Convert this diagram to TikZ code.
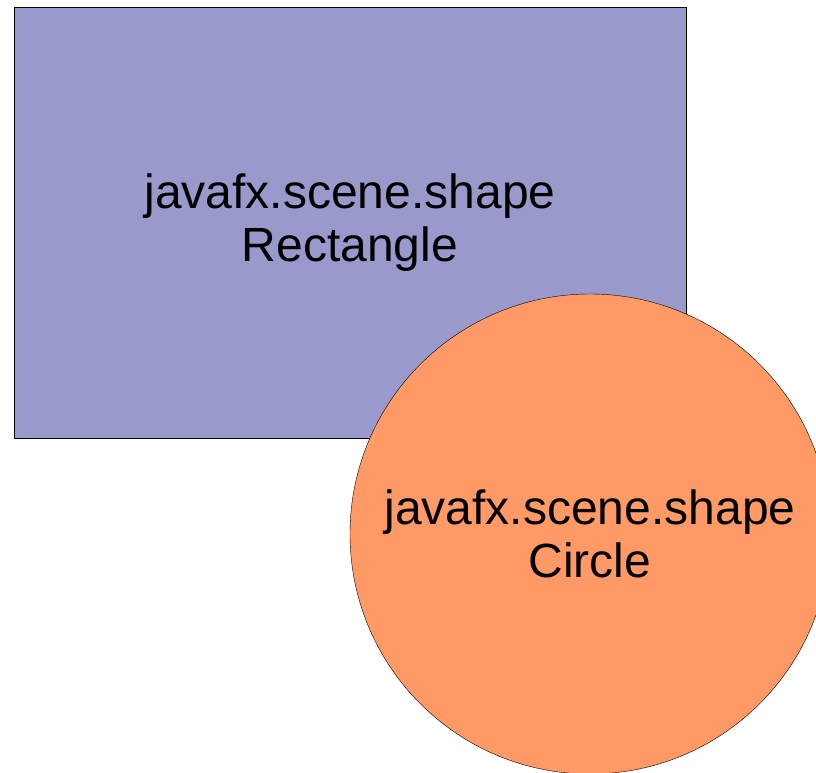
\documentclass[tikz,border=0pt]{standalone}
\usepackage{fontspec}
\setmainfont{Liberation Sans}
\usepackage{tikz}
\definecolor{rectblue}{HTML}{9999CC}
\definecolor{circorange}{HTML}{FF9966}

\begin{document}
\begin{tikzpicture}[x=1pt,y=-1pt,
	shapelabel/.style={draw=black,thin,align=center,inner sep=0pt,font=\fontsize{48}{53}\selectfont}]
		\useasboundingbox (0,0) rectangle (816,772);
		\node[shapelabel,rectangle,fill=rectblue,minimum width=672pt,minimum height=431pt] (rect) at (350,222.5) {javafx.scene.shape\\Rectangle};
		\node[shapelabel,circle,fill=circorange,minimum size=480pt] (circ) at (590,534) {javafx.scene.shape\\Circle};
		\end{tikzpicture}
\end{document}
